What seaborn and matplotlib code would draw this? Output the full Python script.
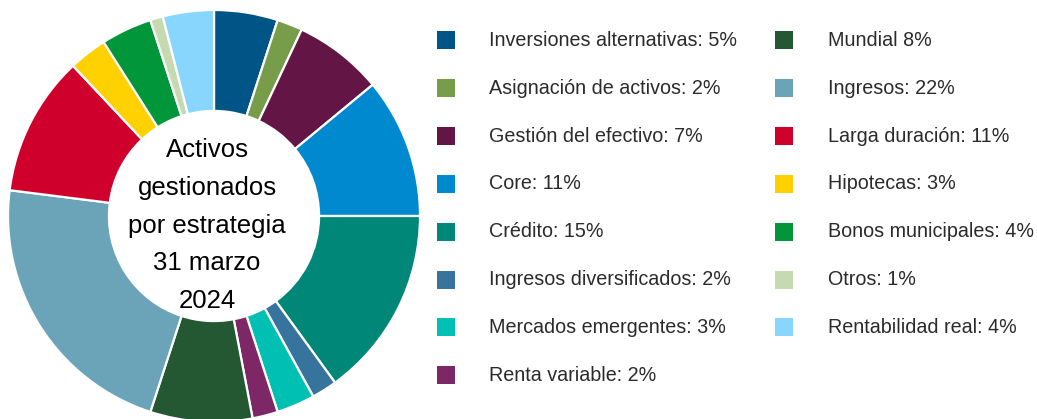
import matplotlib
matplotlib.use("Agg")
import matplotlib.pyplot as plt
from matplotlib.patches import Rectangle
import seaborn as sns

# Asset allocation by strategy (percent)
categories = [
    "Inversiones alternativas", "Asignación de activos", "Gestión del efectivo",
    "Core", "Crédito", "Ingresos diversificados", "Mercados emergentes",
    "Renta variable", "Mundial", "Ingresos", "Larga duración", "Hipotecas",
    "Bonos municipales", "Otros", "Rentabilidad real",
]
values = [5, 2, 7, 11, 15, 2, 3, 2, 8, 22, 11, 3, 4, 1, 4]
legend_labels = [
    "Inversiones alternativas: 5%", "Asignación de activos: 2%",
    "Gestión del efectivo: 7%", "Core: 11%", "Crédito: 15%",
    "Ingresos diversificados: 2%", "Mercados emergentes: 3%",
    "Renta variable: 2%", "Mundial 8%", "Ingresos: 22%",
    "Larga duración: 11%", "Hipotecas: 3%", "Bonos municipales: 4%",
    "Otros: 1%", "Rentabilidad real: 4%",
]
colors = [
    "#005587", "#789D4A", "#631545", "#0089CF", "#008778", "#36749D",
    "#00BFB3", "#7D2766", "#235833", "#6BA4B8", "#D0002D", "#FFD100",
    "#009639", "#C5DAB0", "#88D6FE",
]
center_lines = ["Activos", "gestionados", "por estrategia", "31 marzo", "2024"]

sns.set_theme(style="white")
plt.rcParams["font.family"] = ["Liberation Sans", "DejaVu Sans"]

W, H = 1037, 419
fig = plt.figure(figsize=(W / 100, H / 100), dpi=100)
fig.patch.set_facecolor("white")

# Donut geometry in pixels
cx, cy, R = 214, 216, 206
ax = fig.add_axes([(cx - R) / W, (H - cy - R) / H, 2 * R / W, 2 * R / H])
ax.pie(
    values, colors=colors, startangle=90, counterclock=False, radius=1,
    wedgeprops=dict(width=0.49, edgecolor="white", linewidth=1.6),
)
ax.set_xlim(-1, 1)
ax.set_ylim(-1, 1)
ax.set_aspect("equal")
ax.axis("off")

# Center caption, one line per row
text_x_px = 207
baselines_px = [157, 195, 233, 270.5, 308]
for line, yb in zip(center_lines, baselines_px):
    ax.text((text_x_px - cx) / R, (cy - yb) / R, line, ha="center",
            va="baseline", fontsize=18.5, color="black")

# Two-column legend
n_first = 8
row0, step = 40.5, 47.8
cols = [(437, 489), (775, 828)]
sq = 18
for i, (lab, col) in enumerate(zip(legend_labels, colors)):
    c = 0 if i < n_first else 1
    r = i if i < n_first else i - n_first
    ypx = row0 + r * step
    xs, xt = cols[c]
    fig.patches.append(Rectangle((xs / W, (H - ypx - sq / 2) / H), sq / W, sq / H,
                                 transform=fig.transFigure, facecolor=col,
                                 edgecolor="none"))
    fig.text(xt / W, (H - ypx) / H, lab, ha="left", va="center",
             fontsize=14.2, color="#2b2b2b")

fig.savefig("out.png", dpi=100, facecolor="white")
